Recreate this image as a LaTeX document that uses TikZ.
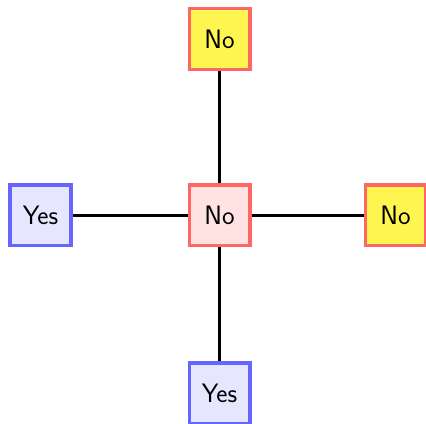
\documentclass[tikz,border=0pt]{standalone}
\usepackage{fontspec}
\begin{document}
\begin{tikzpicture}[x=0.75pt,y=-0.75pt,
  box/.style={draw, line width=2.5pt, minimum size=45.5pt, inner sep=0pt, font=\sffamily\fontsize{20}{24}\selectfont},
  nobox/.style={box, draw={rgb,255:red,255;green,102;blue,102}, fill={rgb,255:red,255;green,245;blue,80}},
  cbox/.style={box, draw={rgb,255:red,255;green,102;blue,102}, fill={rgb,255:red,255;green,226;blue,226}},
  yesbox/.style={box, draw={rgb,255:red,102;green,102;blue,255}, fill={rgb,255:red,230;green,230;blue,255}},
  link/.style={line width=2.6pt, black}]
\useasboundingbox (0,0) rectangle (426,424);
\node[cbox] (c) at (219.5,215.5) {No};
\node[nobox] (t) at (219.5,39) {No};
\node[yesbox] (l) at (40.5,215.5) {Yes};
\node[nobox] (r) at (395.5,215.5) {No};
\node[yesbox] (b) at (219.5,393.5) {Yes};
\draw[link] (c) -- (t);
\draw[link] (c) -- (l);
\draw[link] (c) -- (r);
\draw[link] (c) -- (b);
\end{tikzpicture}
\end{document}
